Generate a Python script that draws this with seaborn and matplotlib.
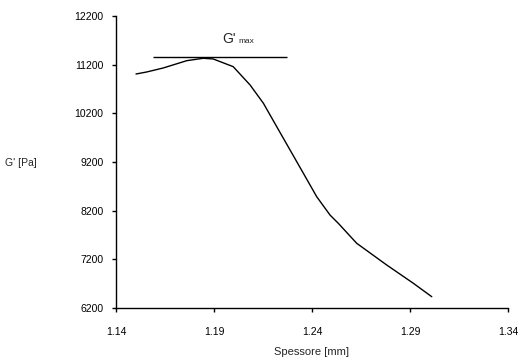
import matplotlib
matplotlib.use("Agg")
import matplotlib.pyplot as plt
import seaborn as sns
import pandas as pd

# curve
spessore = [1.1502, 1.1557, 1.1641, 1.1761, 1.1845, 1.1896, 1.1998, 1.2084,
            1.2152, 1.2220, 1.2288, 1.2356, 1.2424, 1.2492, 1.2534, 1.2628,
            1.2781, 1.2917, 1.3011]
g_prime = [11008, 11050, 11132, 11282, 11331, 11317, 11159, 10783,
           10407, 9926, 9447, 8968, 8487, 8110, 7941, 7530,
           7084, 6708, 6432]

# tangent line at the maximum
gmax_x = [1.159, 1.227]
gmax_y = 11352

x_ticks = [1.14, 1.19, 1.24, 1.29, 1.34]
y_ticks = [6200, 7200, 8200, 9200, 10200, 11200, 12200]

sns.set_style("ticks")
plt.rcParams['font.family'] = ['Liberation Sans', 'DejaVu Sans']

df = pd.DataFrame({"spessore": spessore, "G": g_prime})

fig = plt.figure(figsize=(5.26, 3.63), dpi=100)
ax = fig.add_axes([116 / 526, 1 - 308 / 363, (508 - 116) / 526, (308 - 16) / 363])

sns.lineplot(data=df, x="spessore", y="G", sort=False, color="black",
             linewidth=1.0, ax=ax)
ax.hlines(gmax_y, gmax_x[0], gmax_x[1], color="black", linewidth=1.0)

ax.set_xlim(x_ticks[0], x_ticks[-1])
ax.set_ylim(y_ticks[0], y_ticks[-1])
ax.set_xticks(x_ticks)
ax.set_yticks(y_ticks)
ax.set_xticklabels([f"{v:.2f}" for v in x_ticks], fontsize=7.5)
ax.set_yticklabels([str(v) for v in y_ticks], fontsize=7.5)
ax.tick_params(axis="x", length=3, width=1, pad=11, colors="black")
ax.tick_params(axis="y", length=3, width=1, pad=6, colors="black")
sns.despine(ax=ax)
for s in ["left", "bottom"]:
    ax.spines[s].set_color("black")
    ax.spines[s].set_linewidth(1.0)

ax.set_xlabel("Spessore [mm]", fontsize=8, labelpad=7)
ax.set_ylabel("")
fig.text(5 / 526, 1 - 163 / 363, "G' [Pa]", fontsize=7.5, va="center", ha="left")

# G'max label
ax.text(1.1941, 11652, "G'", fontsize=10, ha="left", va="baseline")
ax.text(1.2022, 11636, "max", fontsize=6, ha="left", va="baseline")

fig.savefig("out.png", dpi=100)
